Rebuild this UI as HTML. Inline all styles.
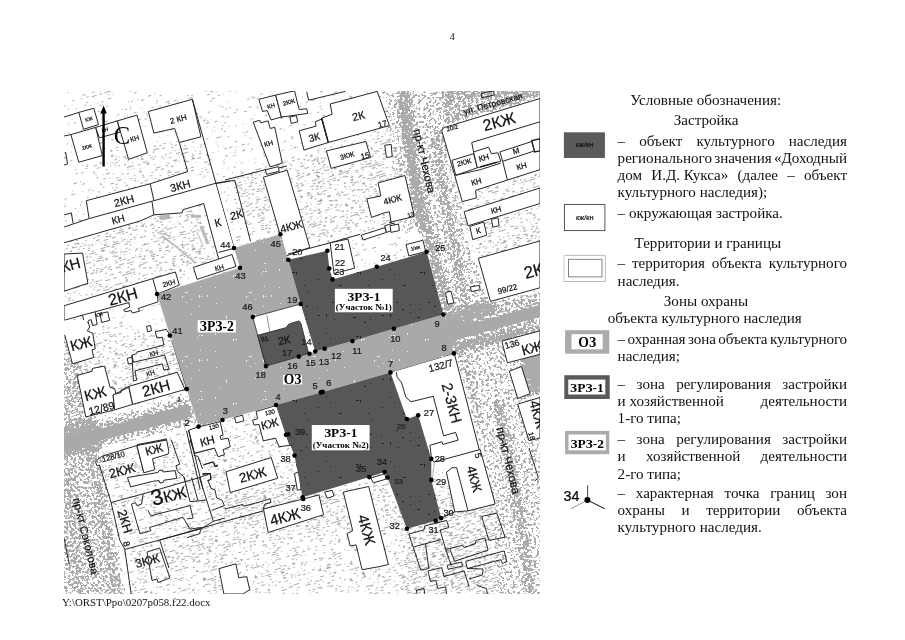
<!DOCTYPE html>
<html lang="ru"><head><meta charset="utf-8"><title>4</title>
<style>
html,body{margin:0;padding:0;background:#fff}
#pg{position:relative;width:905px;height:640px;overflow:hidden;background:#fff;font-family:"Liberation Serif",serif;color:#111}
.t{position:absolute;font-size:15.1px;line-height:17px;white-space:nowrap;letter-spacing:0}
.t.j{white-space:normal;text-align:justify;text-align-last:justify}
svg text.s{font-family:"Liberation Sans",sans-serif;stroke:#111;stroke-width:0.22px}
svg text.b{font-family:"Liberation Serif",serif;font-weight:bold;fill:#000}
.pn{position:absolute;left:449.7px;top:31px;font-size:10px;line-height:12px}
.ft{position:absolute;left:62px;top:596.4px;font-size:10.9px;line-height:12px;white-space:nowrap}
</style></head><body>
<div id="pg">
<svg width="905" height="640" viewBox="0 0 905 640" style="position:absolute;left:0;top:0;will-change:transform"><defs><pattern id="pw" width="64" height="64" patternUnits="userSpaceOnUse"><path d="M41.5 19v2M9.5 12v1M27 4.5h1M8.5 30v1M7.5 15v1M7.5 50v1M5 17.5h1M15.5 39v2M23.5 13v2M24.5 47v1M8 7.5h2M54.5 40v2M58 46.5h1M23.5 31v1M63 43.5h3M9 15.5h2M43 19.5h2M9.5 40v1M63.5 58v1M34.5 60v3M7.5 39v3M57 36.5h3" stroke="#eee" stroke-width="1" fill="none"/></pattern><pattern id="pk" width="64" height="64" patternUnits="userSpaceOnUse"><path d="M44 2.5h2M14 63.5h1M36 16.5h3M50 63.5h1M51.5 35v1M35.5 53v1M48 29.5h1M19 29.5h3M62 23.5h1M18 53.5h2M40.5 16v3M6.5 58v3M50 50.5h2M61 51.5h1M26 56.5h1M6.5 13v1M12 46.5h2M26.5 48v1M44 46.5h2M62 59.5h2M10.5 18v1M33 61.5h3" stroke="#222" stroke-width="1" fill="none"/></pattern><filter id="st" x="40" y="70" width="520" height="550" filterUnits="userSpaceOnUse" color-interpolation-filters="sRGB"><feGaussianBlur in="SourceGraphic" stdDeviation="2.2" result="d"/><feTurbulence type="fractalNoise" baseFrequency="0.38" numOctaves="3" seed="5" result="t"/><feColorMatrix in="t" type="matrix" values="0 0 0 0 0  0 0 0 0 0  0 0 0 0 0  1 0 0 0 0" result="n"/><feComposite in="n" in2="d" operator="arithmetic" k1="0" k2="-30" k3="30" k4="0.5" result="c"/><feColorMatrix in="c" type="matrix" values="0 0 0 0 0.67  0 0 0 0 0.67  0 0 0 0 0.67  0 0 0 1 0"/></filter><filter id="sl" x="-150" y="-150" width="900" height="1000" filterUnits="userSpaceOnUse" color-interpolation-filters="sRGB"><feGaussianBlur in="SourceGraphic" stdDeviation="3" result="d"/><feTurbulence type="fractalNoise" baseFrequency="0.22 0.9" numOctaves="2" seed="11" result="t"/><feColorMatrix in="t" type="matrix" values="0 0 0 0 0  0 0 0 0 0  0 0 0 0 0  1 0 0 0 0" result="n"/><feComposite in="n" in2="d" operator="arithmetic" k1="0" k2="-30" k3="30" k4="0.5" result="c"/><feColorMatrix in="c" type="matrix" values="0 0 0 0 0.66  0 0 0 0 0.66  0 0 0 0 0.66  0 0 0 1 0"/></filter><clipPath id="mc"><rect x="64" y="91" width="476" height="503"/></clipPath></defs><g clip-path="url(#mc)"><g transform="rotate(-17 300 340)" filter="url(#sl)"><g transform="rotate(17 300 340)"><rect x="20" y="50" width="560" height="590" fill="#000" fill-opacity="0.28"/><polygon points="128.0,545.0 200.0,522.0 420.0,470.0 500.0,500.0 500.0,600.0 128.0,600.0" fill="#000" fill-opacity="0.090"/><polyline points="160.0,560.0 330.0,520.0 440.0,505.0" fill="none" stroke="#000" stroke-opacity="0.061" stroke-width="14" stroke-linejoin="round"/><polygon points="225.0,500.0 340.0,470.0 345.0,500.0 232.0,530.0" fill="#000" fill-opacity="0.097"/><polygon points="60.0,240.0 200.0,205.0 215.0,260.0 160.0,290.0 60.0,300.0" fill="#000" fill-opacity="0.111"/><polygon points="90.0,150.0 200.0,135.0 215.0,175.0 100.0,205.0" fill="#000" fill-opacity="0.083"/><polygon points="230.0,175.0 400.0,130.0 420.0,215.0 290.0,250.0 240.0,215.0" fill="#000" fill-opacity="0.125"/><polygon points="440.0,175.0 545.0,150.0 545.0,250.0 470.0,262.0" fill="#000" fill-opacity="0.111"/><polygon points="60.0,330.0 170.0,330.0 186.0,389.0 60.0,425.0" fill="#000" fill-opacity="0.111"/><polygon points="100.0,455.0 280.0,410.0 300.0,500.0 125.0,545.0" fill="#000" fill-opacity="0.083"/><polygon points="400.0,500.0 500.0,490.0 500.0,600.0 400.0,600.0" fill="#000" fill-opacity="0.097"/></g></g>
<g filter="url(#st)"><polygon points="60.0,335.0 78.0,335.0 102.0,448.0 128.0,600.0 60.0,600.0" fill="#000" fill-opacity="0.470"/><polyline points="88.0,440.0 100.0,500.0 116.0,600.0" fill="none" stroke="#000" stroke-opacity="0.170" stroke-width="7" stroke-linejoin="round"/><polyline points="66.0,470.0 80.0,600.0" fill="none" stroke="#000" stroke-opacity="0.132" stroke-width="8" stroke-linejoin="round"/><polygon points="60.0,428.0 189.0,394.0 200.0,426.0 60.0,458.0" fill="#000" fill-opacity="0.460"/><polygon points="60.0,437.0 188.0,403.5 192.0,417.0 60.0,451.0" fill="#000" fill-opacity="0.296"/><polygon points="443.5,314.5 480.0,303.0 545.0,290.0 545.0,330.0 453.9,353.4" fill="#000" fill-opacity="0.500"/><polygon points="399.0,88.0 452.0,88.0 446.0,127.0 452.0,170.0 470.0,245.0 497.0,312.0 452.0,326.0 440.0,324.0 421.0,245.0 408.0,170.0 399.0,111.0" fill="#000" fill-opacity="0.425"/><polyline points="404.0,88.0 409.0,127.0 416.0,180.0 424.0,215.0 433.0,252.0 442.0,285.0 452.0,322.0" fill="none" stroke="#000" stroke-opacity="0.322" stroke-width="10" stroke-linejoin="round"/><polyline points="437.0,128.0 440.0,175.0 454.0,245.0 468.0,322.0" fill="none" stroke="#000" stroke-opacity="0.252" stroke-width="8" stroke-linejoin="round"/><polygon points="380.0,88.0 400.0,88.0 412.0,150.0 424.0,230.0 400.0,236.0 388.0,140.0" fill="#000" fill-opacity="0.400"/><polygon points="446.0,88.0 545.0,88.0 545.0,97.0 446.0,126.0" fill="#000" fill-opacity="0.500"/><polyline points="450.0,93.0 545.0,93.0" fill="none" stroke="#000" stroke-opacity="0.200" stroke-width="8" stroke-linejoin="round"/><polyline points="448.0,121.0 545.0,92.0" fill="none" stroke="#000" stroke-opacity="0.160" stroke-width="5" stroke-linejoin="round"/><polygon points="452.0,345.0 508.0,330.0 545.0,330.0 545.0,600.0 495.0,600.0 492.0,520.0 478.0,448.0" fill="#000" fill-opacity="0.415"/><polyline points="497.0,400.0 504.0,431.0 523.0,532.0 531.0,600.0" fill="none" stroke="#000" stroke-opacity="0.248" stroke-width="10" stroke-linejoin="round"/><polyline points="462.0,350.0 480.0,420.0" fill="none" stroke="#000" stroke-opacity="0.145" stroke-width="8" stroke-linejoin="round"/><polygon points="521.5,352.0 545.0,352.0 545.0,393.0 530.0,393.7 524.0,375.0" fill="#000" fill-opacity="0.658"/></g>
<polygon points="159.6,215.5 170.0,214.8 170.0,219.0 160.0,220.0" fill="#b4b4b4"/>
<polyline points="162.0,236.0 178.0,248.0 195.2,262.7" fill="none" stroke="#b8b8b8" stroke-width="1.6"/>
<polyline points="159.6,233.0 170.0,236.0" fill="none" stroke="#c0c0c0" stroke-width="1.4"/>
<polygon points="190.0,214.5 201.0,215.0 201.0,218.0 191.0,217.5" fill="#bbb"/>
<polyline points="201.0,226.0 208.0,244.0" fill="none" stroke="#bcbcbc" stroke-width="3.2"/>
<polyline points="197.0,232.0 203.0,246.0" fill="none" stroke="#cfcfcf" stroke-width="1.6"/>
<!--zones-->
<polygon points="78.8,112.4 93.8,108.3 98.5,124.6 83.5,129.3" fill="#fff" stroke="#1c1c1c" stroke-width="0.95"/>
<polyline points="64.1,117.1 78.8,112.4" fill="none" stroke="#1c1c1c" stroke-width="0.95"/>
<polygon points="70.9,134.6 95.7,127.4 102.3,155.6 78.8,162.2" fill="#fff" stroke="#1c1c1c" stroke-width="0.95"/>
<polyline points="64.1,136.0 70.9,134.6" fill="none" stroke="#1c1c1c" stroke-width="0.95"/>
<polyline points="64.1,165.0 67.5,164.0 65.6,152.0" fill="none" stroke="#1c1c1c" stroke-width="0.95"/>
<polygon points="117.3,120.9 137.0,115.2 147.3,152.8 128.6,159.4" fill="#fff" stroke="#1c1c1c" stroke-width="0.95"/>
<polygon points="95.7,127.4 117.3,120.9 120.1,132.1 99.4,137.8" fill="#fff" stroke="#1c1c1c" stroke-width="0.95"/>
<polygon points="148.3,111.5 192.4,99.3 200.9,136.8 179.3,142.5 174.6,128.4 153.9,133.1" fill="#fff" stroke="#1c1c1c" stroke-width="0.95"/>
<polyline points="192.4,99.3 234.0,248.0" fill="none" stroke="#1c1c1c" stroke-width="0.95"/>
<polyline points="179.3,142.5 187.7,171.6" fill="none" stroke="#1c1c1c" stroke-width="0.95"/>
<polygon points="86.3,200.7 150.2,183.8 187.7,171.6 215.3,183.4 153.9,200.7 89.1,218.6" fill="#fff" stroke="#1c1c1c" stroke-width="0"/>
<polyline points="89.1,218.6 86.3,200.7 150.2,183.8 187.7,171.6" fill="none" stroke="#1c1c1c" stroke-width="0.95"/>
<polyline points="150.2,183.8 153.9,200.7" fill="none" stroke="#1c1c1c" stroke-width="0.95"/>
<polygon points="64.1,227.0 89.1,218.6 153.9,200.7 215.3,183.4 234.1,248.3 218.7,252.4 218.7,259.0 203.7,203.5 183.0,209.7 182.1,212.9 153.9,214.8 140.8,220.8 64.1,242.8" fill="#fff" stroke="#1c1c1c" stroke-width="0"/>
<polyline points="64.1,227.0 89.1,218.6 153.9,200.7 215.3,183.4 230.0,181.0" fill="none" stroke="#1c1c1c" stroke-width="0.95"/>
<polyline points="64.1,242.8 140.8,220.8 153.9,214.8 182.1,212.9 183.0,209.7 203.7,203.5 218.7,259.0" fill="none" stroke="#1c1c1c" stroke-width="0.95"/>
<polyline points="152.0,201.7 153.9,214.8" fill="none" stroke="#1c1c1c" stroke-width="0.95"/>
<polyline points="218.7,252.4 234.1,248.3" fill="none" stroke="#1c1c1c" stroke-width="0.95"/>
<polyline points="64.1,214.8 71.3,212.9 73.1,223.3" fill="none" stroke="#1c1c1c" stroke-width="0.95"/>
<polyline points="215.3,183.4 234.8,180.3 250.5,241.3" fill="none" stroke="#1c1c1c" stroke-width="0.95"/>
<polygon points="64.1,254.0 82.5,253.1 87.9,283.3 64.0,291.2" fill="#fff" stroke="#1c1c1c" stroke-width="0.95"/>
<polygon points="64.0,305.8 152.8,278.6 175.4,272.0 179.3,285.0 157.2,294.3 158.1,301.8 138.2,308.5 139.6,311.1 132.3,313.1 131.0,310.5 125.0,311.8 123.7,309.8 129.6,307.1 129.0,302.5 95.1,311.8 82.5,315.1 64.0,320.4" fill="#fff" stroke="#1c1c1c" stroke-width="0.95"/>
<polyline points="152.8,278.6 157.2,294.3" fill="none" stroke="#1c1c1c" stroke-width="0.95"/>
<polyline points="82.5,315.1 84.5,323.7 87.9,322.4 88.5,320.4 91.2,319.7 92.5,325.7 97.1,324.4 95.1,311.8" fill="none" stroke="#1c1c1c" stroke-width="0.95"/>
<polygon points="99.8,313.8 107.7,311.8 109.7,320.4 101.8,322.4" fill="#fff" stroke="#1c1c1c" stroke-width="0.95"/>
<polygon points="193.4,267.4 218.7,259.0 232.0,254.5 236.0,266.5 197.1,279.4" fill="#fff" stroke="#1c1c1c" stroke-width="0.95"/>
<polygon points="258.8,99.3 275.7,95.1 281.4,117.1 271.0,119.9 267.3,110.5 262.6,111.5" fill="#fff" stroke="#1c1c1c" stroke-width="0.95"/>
<polygon points="275.7,95.1 294.5,90.8 299.2,109.6 306.7,108.7 307.7,113.4 281.4,117.1" fill="#fff" stroke="#1c1c1c" stroke-width="0.95"/>
<polygon points="289.8,117.2 296.3,115.6 297.8,121.8 291.3,123.4" fill="#fff" stroke="#1c1c1c" stroke-width="0.95"/>
<polygon points="253.2,122.2 259.8,120.3 260.7,122.8 268.2,120.9 270.1,128.4 274.8,127.4 282.3,163.1 270.1,166.9" fill="#fff" stroke="#1c1c1c" stroke-width="0.95"/>
<polygon points="265.4,169.8 278.2,166.6 279.3,171.2 266.5,174.4" fill="#fff" stroke="#1c1c1c" stroke-width="0.95"/>
<polyline points="225.0,180.0 265.4,169.7" fill="none" stroke="#1c1c1c" stroke-width="0.95"/>
<polyline points="278.5,168.0 287.0,166.0" fill="none" stroke="#1c1c1c" stroke-width="0.95"/>
<polygon points="263.4,177.2 287.2,170.2 309.8,247.5 286.0,256.0 280.2,235.0" fill="#fff" stroke="#1c1c1c" stroke-width="0.95"/>
<polygon points="299.2,130.8 316.1,126.1 315.2,121.8 321.7,119.0 328.3,142.5 303.9,150.0" fill="#fff" stroke="#1c1c1c" stroke-width="0.95"/>
<polygon points="321.7,118.1 332.1,114.3 330.2,104.0 377.2,91.4 389.4,125.6 328.3,142.5" fill="#fff" stroke="#1c1c1c" stroke-width="0.95"/>
<polyline points="321.7,118.1 328.3,142.5" fill="none" stroke="#1c1c1c" stroke-width="1.4"/>
<polyline points="306.7,91.8 308.6,100.2 345.2,91.4" fill="none" stroke="#1c1c1c" stroke-width="0.95"/>
<polygon points="326.4,150.9 365.9,141.5 370.6,157.5 331.1,168.4" fill="#fff" stroke="#1c1c1c" stroke-width="0.95"/>
<polygon points="384.7,145.3 391.2,144.4 392.2,156.6 386.5,157.5" fill="#fff" stroke="#1c1c1c" stroke-width="0.95"/>
<polygon points="378.1,182.9 405.0,175.5 414.4,216.5 389.4,222.4 391.2,223.0 389.4,211.8 384.7,212.7 371.5,217.4 366.8,198.8 380.9,196.0" fill="#fff" stroke="#1c1c1c" stroke-width="0.95"/>
<polyline points="288.0,254.0 330.2,242.8 360.2,234.3" fill="none" stroke="#1c1c1c" stroke-width="0.95"/>
<polygon points="330.2,242.8 348.0,239.0 354.6,268.1 334.0,273.7" fill="#fff" stroke="#1c1c1c" stroke-width="0.95"/>
<polygon points="361.2,235.2 384.7,227.7 386.5,232.4 363.1,240.0" fill="#fff" stroke="#1c1c1c" stroke-width="0.95"/>
<polygon points="384.7,225.8 394.0,223.0 395.5,229.0 386.5,232.4" fill="#fff" stroke="#1c1c1c" stroke-width="0.95"/>
<polygon points="390.0,225.8 398.5,224.0 399.4,230.5 391.0,232.4" fill="#fff" stroke="#1c1c1c" stroke-width="0.95"/>
<polygon points="406.0,244.6 422.9,240.3 425.7,251.6 408.8,255.9" fill="#fff" stroke="#1c1c1c" stroke-width="0.95"/>
<polygon points="445.4,292.5 451.0,291.2 453.9,302.9 447.9,304.2" fill="#fff" stroke="#1c1c1c" stroke-width="0.95"/>
<polygon points="470.4,286.9 479.2,285.4 480.2,289.7 471.3,291.6" fill="#fff" stroke="#1c1c1c" stroke-width="0.95"/>
<polygon points="441.7,130.5 444.0,127.6 540.0,98.5 540.0,169.7 507.4,180.0 475.5,190.4 476.4,197.9 462.3,201.6" fill="#fff" stroke="#1c1c1c" stroke-width="0.95"/>
<polyline points="471.7,142.5 540.0,121.8" fill="none" stroke="#1c1c1c" stroke-width="0.95"/>
<polyline points="471.7,142.5 473.6,151.9" fill="none" stroke="#1c1c1c" stroke-width="0.95"/>
<polygon points="452.0,160.3 473.6,153.7 477.3,167.8 455.7,175.3" fill="#fff" stroke="#1c1c1c" stroke-width="0.95"/>
<polygon points="473.6,151.9 488.6,147.2 491.4,153.7 498.0,152.8 500.8,161.3 477.3,167.8" fill="#fff" stroke="#1c1c1c" stroke-width="0.95"/>
<polygon points="499.9,151.9 531.8,141.5 534.6,150.9 502.7,161.3" fill="#fff" stroke="#1c1c1c" stroke-width="0.95"/>
<polygon points="531.8,140.6 540.0,138.7 540.0,150.9 534.6,151.9" fill="#fff" stroke="#1c1c1c" stroke-width="1.4"/>
<polyline points="502.7,161.3 507.4,180.0" fill="none" stroke="#1c1c1c" stroke-width="0.95"/>
<polyline points="455.7,175.3 480.2,169.7 500.8,163.1" fill="none" stroke="#1c1c1c" stroke-width="0.95"/>
<polyline points="480.2,167.0 497.1,162.2" fill="none" stroke="#1c1c1c" stroke-width="1.4"/>
<polygon points="481.0,93.5 493.5,90.8 494.3,95.0 481.8,97.7" fill="none" stroke="#1c1c1c" stroke-width="0.95"/>
<polygon points="464.2,211.8 540.0,188.0 540.0,203.5 468.0,225.8" fill="#fff" stroke="#1c1c1c" stroke-width="0.95"/>
<polygon points="469.8,226.4 483.9,222.1 486.7,235.2 472.7,239.6" fill="#fff" stroke="#1c1c1c" stroke-width="0.95"/>
<polygon points="491.4,219.3 498.0,217.8 499.0,225.8 492.9,227.2" fill="#fff" stroke="#1c1c1c" stroke-width="0.95"/>
<polygon points="478.3,258.3 540.0,240.9 540.0,287.8 490.5,301.4" fill="#fff" stroke="#1c1c1c" stroke-width="0.95"/>
<polygon points="64.7,334.8 72.5,363.8 93.6,357.5 92.0,349.7 95.2,348.9 92.8,333.3 87.3,330.9 89.7,327.0 86.0,320.0 64.0,320.4" fill="#fff" stroke="#1c1c1c" stroke-width="0"/>
<polyline points="64.7,334.8 72.5,363.8 93.6,357.5 92.0,349.7 95.2,348.9 92.8,333.3 87.3,330.9 89.7,327.0 88.0,322.0" fill="none" stroke="#1c1c1c" stroke-width="0.95"/>
<polygon points="77.2,375.5 92.0,371.3 92.5,368.4 104.5,366.1 110.0,387.2 114.7,388.8 115.9,393.8 113.1,395.0 114.7,409.8 85.8,416.9" fill="#fff" stroke="#1c1c1c" stroke-width="0.95"/>
<polygon points="113.1,395.0 128.8,387.2 132.7,404.4 114.7,409.8" fill="#fff" stroke="#1c1c1c" stroke-width="0.95"/>
<polyline points="115.9,393.8 121.0,392.5 121.5,389.8 128.8,386.4" fill="none" stroke="#1c1c1c" stroke-width="0.95"/>
<polygon points="128.8,386.4 177.2,372.3 185.0,389.5 132.7,404.4" fill="#fff" stroke="#1c1c1c" stroke-width="0.95"/>
<polyline points="166.3,329.4 155.3,331.7 156.9,338.0 162.3,337.2 163.9,345.0 137.3,352.0 136.6,353.6 131.9,355.2" fill="none" stroke="#1c1c1c" stroke-width="0.95"/>
<polyline points="166.3,329.4 170.2,335.3 186.6,388.8" fill="none" stroke="#1c1c1c" stroke-width="0.95"/>
<polygon points="131.9,355.2 133.4,362.2 164.7,355.2 167.8,365.3 169.4,369.2 163.9,370.0 162.3,363.8 135.0,370.8 136.6,380.2 133.4,380.9" fill="none" stroke="#1c1c1c" stroke-width="0.95"/>
<polygon points="127.2,358.3 131.9,357.2 132.7,363.0 128.4,364.1" fill="#fff" stroke="#1c1c1c" stroke-width="0.95"/>
<polygon points="146.7,326.3 150.6,325.5 151.4,330.9 147.5,331.7" fill="#fff" stroke="#1c1c1c" stroke-width="0.95"/>
<polyline points="166.6,440.0 136.9,445.5 101.7,456.4 99.4,458.0 95.5,461.9 97.0,465.8 99.4,465.0 111.1,502.5 119.7,540.0 124.8,549.4 132.0,600.0" fill="none" stroke="#1c1c1c" stroke-width="0.95"/>
<polyline points="136.9,445.5 143.9,472.8" fill="none" stroke="#1c1c1c" stroke-width="0.95"/>
<polygon points="136.9,445.5 166.6,440.0 168.9,451.7 168.1,454.1 152.5,458.8 154.8,469.7 143.9,472.8" fill="#fff" stroke="#1c1c1c" stroke-width="0.95"/>
<polyline points="171.3,440.0 179.8,464.2 175.9,465.8 177.5,471.3 183.8,476.7 185.3,480.6" fill="none" stroke="#1c1c1c" stroke-width="0.95"/>
<polygon points="127.5,477.5 158.0,472.5 159.0,470.5 162.0,470.0 163.0,472.0 175.2,470.6 176.7,478.4 164.0,480.2 163.0,482.5 160.0,483.0 159.0,480.5 152.5,481.4 130.6,486.9" fill="#fff" stroke="#1c1c1c" stroke-width="0.95"/>
<polyline points="111.1,502.5 143.1,493.9 199.4,477.5 210.3,473.6" fill="none" stroke="#1c1c1c" stroke-width="0.95"/>
<polyline points="131.4,504.1 140.0,533.8 150.9,530.6 149.4,527.5 183.0,517.3 190.0,529.1 201.7,527.5 199.4,533.8 186.9,537.7" fill="none" stroke="#1c1c1c" stroke-width="0.95"/>
<polyline points="147.8,510.3 150.9,515.8 190.0,505.6 193.1,518.1 186.9,518.9" fill="none" stroke="#1c1c1c" stroke-width="0.95"/>
<polyline points="131.4,504.1 135.3,502.5 136.9,505.6 141.6,504.1 143.1,493.9" fill="none" stroke="#1c1c1c" stroke-width="0.95"/>
<polyline points="183.8,476.7 190.0,501.7 205.6,500.2" fill="none" stroke="#1c1c1c" stroke-width="0.95"/>
<polyline points="191.6,477.5 197.8,500.2" fill="none" stroke="#1c1c1c" stroke-width="0.95"/>
<polyline points="199.4,477.5 213.4,521.3" fill="none" stroke="#1c1c1c" stroke-width="0.95"/>
<polyline points="202.5,473.6 210.3,473.6 211.1,479.1 208.0,480.6 211.1,488.4 215.0,490.0 216.6,497.8 222.0,500.2 224.4,505.6 211.9,510.3" fill="none" stroke="#1c1c1c" stroke-width="0.95"/>
<polyline points="190.0,440.0 194.7,453.3 215.0,447.8 219.7,455.6 224.4,454.8" fill="none" stroke="#1c1c1c" stroke-width="0.95"/>
<polyline points="194.7,455.6 198.0,456.4 202.5,469.0" fill="none" stroke="#1c1c1c" stroke-width="0.95"/>
<polyline points="203.3,465.0 213.4,461.9 215.0,465.8 218.1,465.0" fill="none" stroke="#1c1c1c" stroke-width="0.95"/>
<polyline points="124.8,549.4 200.9,528.8 213.4,521.3 225.0,518.0" fill="none" stroke="#1c1c1c" stroke-width="0.95"/>
<polyline points="159.6,540.0 169.0,568.0" fill="none" stroke="#1c1c1c" stroke-width="0.95"/>
<polygon points="147.0,552.0 159.6,548.0 169.9,578.0 158.0,582.5 157.0,579.0 152.0,580.5" fill="none" stroke="#1c1c1c" stroke-width="0.95"/>
<polyline points="64.1,538.2 69.4,564.5" fill="none" stroke="#1c1c1c" stroke-width="0.95"/>
<polygon points="188.6,430.2 198.7,426.9 220.2,421.6 223.1,435.2 220.2,435.9 220.9,439.5 228.1,438.1 230.3,446.7 223.1,449.6 224.5,454.6 218.1,456.8 214.5,448.1 194.4,453.2" fill="#fff" stroke="#1c1c1c" stroke-width="0.95"/>
<polyline points="186.5,430.9 200.1,489.0" fill="none" stroke="#1c1c1c" stroke-width="0.95"/>
<polyline points="188.6,430.2 203.0,489.0" fill="none" stroke="#1c1c1c" stroke-width="0.95"/>
<polyline points="137.0,444.6 167.1,438.9" fill="none" stroke="#1c1c1c" stroke-width="0.95"/>
<polygon points="234.6,417.2 242.5,415.1 243.9,420.8 236.0,423.0" fill="#fff" stroke="#1c1c1c" stroke-width="0.95"/>
<polygon points="256.1,411.5 276.6,405.3 289.9,445.3 279.1,446.7 275.5,438.1 263.3,440.9 259.0,424.4 254.0,425.1 252.6,420.1 257.6,418.7" fill="#fff" stroke="#1c1c1c" stroke-width="0.95"/>
<polyline points="203.7,464.6 213.0,461.8 215.2,466.8 218.0,466.0" fill="none" stroke="#1c1c1c" stroke-width="0.95"/>
<polyline points="202.3,474.7 210.2,473.3 210.9,479.7 207.3,480.5" fill="none" stroke="#1c1c1c" stroke-width="0.95"/>
<polygon points="226.0,471.8 271.2,457.5 277.7,478.3 230.3,492.5" fill="#fff" stroke="#1c1c1c" stroke-width="0.95"/>
<polygon points="263.5,509.0 318.9,495.0 323.6,514.7 268.2,532.5" fill="#fff" stroke="#1c1c1c" stroke-width="0.95"/>
<polyline points="225.0,509.0 242.8,504.4 243.8,506.2 264.5,500.6 270.1,498.7 271.0,502.5 264.5,504.4 263.5,509.0" fill="none" stroke="#1c1c1c" stroke-width="0.95"/>
<polyline points="225.0,521.3 263.5,510.9" fill="none" stroke="#1c1c1c" stroke-width="0.95"/>
<polyline points="160.0,540.0 225.0,521.3" fill="none" stroke="#1c1c1c" stroke-width="0.95"/>
<polygon points="294.5,473.4 299.2,472.0 301.1,489.3 297.3,490.3" fill="#fff" stroke="#1c1c1c" stroke-width="0.95"/>
<polygon points="324.6,492.1 332.1,490.3 334.0,495.9 327.4,498.3" fill="#fff" stroke="#1c1c1c" stroke-width="0.95"/>
<polygon points="343.3,492.1 368.7,486.5 388.4,564.5 380.0,566.5 362.1,569.7 356.1,544.9 350.2,545.9 347.1,533.5 352.7,530.7" fill="#fff" stroke="#1c1c1c" stroke-width="0.95"/>
<polygon points="370.6,478.0 384.7,473.9 386.5,479.0 373.4,482.8" fill="#fff" stroke="#1c1c1c" stroke-width="0.95"/>
<polygon points="218.9,568.7 235.8,563.8 238.8,577.7 246.7,576.7 249.7,589.6 243.0,594.0 223.9,594.0" fill="#fff" stroke="#1c1c1c" stroke-width="0.95"/>
<polygon points="390.3,372.2 453.9,353.4 481.0,448.7 431.6,459.0 418.2,415.5 406.6,418.6" fill="#fff"/>
<polyline points="390.3,372.2 453.9,353.4" fill="none" stroke="#1c1c1c" stroke-width="0.95"/>
<polyline points="396.3,372.2 397.2,377.3 401.5,382.5 405.8,397.1 410.9,401.8 433.3,396.3 443.6,435.8 455.6,432.4 458.2,440.1 442.8,444.4 441.9,441.8 429.9,445.3 431.6,459.0" fill="none" stroke="#1c1c1c" stroke-width="0.95"/>
<polyline points="454.3,353.4 483.2,465.0" fill="none" stroke="#1c1c1c" stroke-width="0.95"/>
<polygon points="501.8,341.1 540.0,330.8 540.0,354.3 507.4,362.8" fill="#fff" stroke="#1c1c1c" stroke-width="0.95"/>
<polygon points="509.3,371.2 521.5,366.5 530.0,393.7 517.7,398.4" fill="#fff" stroke="#1c1c1c" stroke-width="0.95"/>
<polygon points="517.7,404.1 540.0,397.5 540.0,438.0 529.0,440.7" fill="#fff" stroke="#1c1c1c" stroke-width="0.95"/>
<polygon points="432.0,459.5 480.2,449.5 495.2,504.0 468.0,510.9 454.8,511.9 446.4,472.4 440.0,470.0" fill="#fff"/>
<polyline points="431.3,458.9 434.1,462.1 480.2,449.5 495.2,504.0 468.0,510.9" fill="none" stroke="#1c1c1c" stroke-width="0.95"/>
<polyline points="468.0,510.9 456.7,467.7 452.0,467.7 446.4,472.4 454.8,511.9" fill="none" stroke="#1c1c1c" stroke-width="0.95"/>
<polyline points="441.1,518.1 454.8,511.9 468.0,510.9" fill="none" stroke="#1c1c1c" stroke-width="0.95"/>
<polyline points="434.1,462.1 432.5,479.0" fill="none" stroke="#888" stroke-width="0.6"/>
<polyline points="420.8,570.1 408.8,534.0 424.0,530.0 424.8,526.0 446.5,520.4 448.9,527.6 440.1,530.0 445.7,549.3 449.7,548.5" fill="none" stroke="#1c1c1c" stroke-width="0.95"/>
<polyline points="420.8,570.1 428.8,568.5 425.6,544.4" fill="none" stroke="#1c1c1c" stroke-width="0.95"/>
<polyline points="413.6,546.9 440.9,539.6" fill="none" stroke="#1c1c1c" stroke-width="0.95"/>
<polygon points="449.7,548.5 462.5,545.3 464.1,547.7 475.3,543.6 476.1,540.4 484.9,538.0 488.1,550.1 454.5,561.3" fill="none" stroke="#1c1c1c" stroke-width="0.95"/>
<polygon points="481.7,516.4 496.9,513.2 505.0,537.2 488.9,540.4" fill="none" stroke="#1c1c1c" stroke-width="0.95"/>
<polygon points="465.7,561.3 504.2,550.9 506.6,561.3 502.5,563.7 500.9,559.7 467.3,568.5" fill="none" stroke="#1c1c1c" stroke-width="0.95"/>
<polygon points="447.3,565.3 461.7,562.1 462.5,566.1 448.1,569.3" fill="none" stroke="#1c1c1c" stroke-width="0.95"/>
<polyline points="428.0,570.9 441.7,567.7 444.1,576.5 464.1,570.9 468.9,586.1" fill="none" stroke="#1c1c1c" stroke-width="0.95"/>
<polyline points="428.0,570.9 430.4,581.3 436.0,580.5 437.7,588.5 445.7,586.9 446.5,594.0" fill="none" stroke="#1c1c1c" stroke-width="0.95"/>
<polyline points="416.0,594.0 416.8,590.0 424.0,588.5 424.8,594.0" fill="none" stroke="#1c1c1c" stroke-width="0.95"/>
<polyline points="467.3,568.5 483.0,569.0 482.5,575.0 469.0,579.0" fill="none" stroke="#1c1c1c" stroke-width="0.95"/>
<polyline points="477.0,585.5 486.5,588.5 487.3,594.0" fill="none" stroke="#1c1c1c" stroke-width="0.95"/>
<polyline points="445.7,549.3 451.0,565.0" fill="none" stroke="#1c1c1c" stroke-width="0.95"/>
<polyline points="529.0,448.0 538.4,478.0 534.6,480.9" fill="none" stroke="#1c1c1c" stroke-width="0.95"/>
<polygon points="64.0,438.8 188.0,404.6 192.0,416.4 64.0,450.2" fill="#a9a9a9"/>
<polygon points="445.0,321.0 479.4,321.6 540.0,304.7 540.0,316.9 457.5,339.5 452.0,348.0" fill="#a9a9a9"/>
<polygon points="157.1,294.0 240.0,267.7 234.0,248.0 280.4,234.3 288.3,259.7 300.7,304.0 252.8,317.1 266.0,366.1 298.8,356.6 309.5,353.7 315.2,351.5 324.6,348.7 352.4,341.1 393.9,328.8 443.5,314.5 453.9,353.4 390.5,372.4 322.7,391.9 276.1,405.0 222.5,420.0 198.6,426.6 186.8,389.1 169.9,335.5" fill="#a9a9a9"/>
<polygon points="157.1,294.0 240.0,267.7 234.0,248.0 280.4,234.3 288.3,259.7 300.7,304.0 252.8,317.1 266.0,366.1 298.8,356.6 309.5,353.7 315.2,351.5 324.6,348.7 352.4,341.1 393.9,328.8 443.5,314.5 453.9,353.4 390.5,372.4 322.7,391.9 276.1,405.0 222.5,420.0 198.6,426.6 186.8,389.1 169.9,335.5" fill="url(#pw)"/>
<polygon points="288.3,259.7 327.4,250.8 329.3,268.5 332.6,279.4 376.8,266.8 426.6,251.8 443.5,314.5 393.9,328.8 352.4,341.1 324.6,348.7 315.2,351.5 300.7,304.0" fill="#575757"/>
<polygon points="276.1,405.0 322.7,391.9 390.5,372.4 406.9,419.1 418.2,415.3 431.3,458.9 431.3,479.9 441.1,518.1 435.6,520.7 406.9,528.8 387.5,477.5 384.7,472.0 369.3,477.1 302.6,497.2 294.5,455.5 286.0,434.7" fill="#575757"/>
<polygon points="288.3,259.7 327.4,250.8 329.3,268.5 332.6,279.4 376.8,266.8 426.6,251.8 443.5,314.5 393.9,328.8 352.4,341.1 324.6,348.7 315.2,351.5 300.7,304.0" fill="url(#pk)"/>
<polygon points="276.1,405.0 322.7,391.9 390.5,372.4 406.9,419.1 418.2,415.3 431.3,458.9 431.3,479.9 441.1,518.1 435.6,520.7 406.9,528.8 387.5,477.5 384.7,472.0 369.3,477.1 302.6,497.2 294.5,455.5 286.0,434.7" fill="url(#pk)"/>
<polygon points="252.8,317.1 300.7,304.0 313.3,351.7 309.5,353.7 298.8,356.6 266.0,366.1" fill="#fff"/>
<polyline points="266.0,366.1 252.8,317.1 300.7,304.0" fill="none" stroke="#222" stroke-width="0.8"/>
<path d="M266.7 314.8L269.7 331.7" stroke="#666" stroke-width="0.7"/>
<polygon points="257.6,335.3 286.5,327.5 288.0,324.8 290.5,323.4 299.1,320.9 300.9,323.3 308.6,353.4 298.8,356.6 266.0,366.1" fill="#575757" stroke="#222" stroke-width="0.8"/>
<rect x="197.7" y="320.2" width="38.2" height="12.3" fill="#fff"/>
<rect x="334.9" y="288.8" width="57.8" height="23.5" fill="#fff"/>
<rect x="282.9" y="375" width="19.1" height="9.5" fill="#fff"/>
<rect x="311.8" y="425" width="57.8" height="25.3" fill="#fff"/>
<text class="b" x="216.8" y="331.0" font-size="13.6" text-anchor="middle">ЗРЗ-2</text>
<text class="b" x="363.8" y="300.5" font-size="13.2" text-anchor="middle">ЗРЗ-1</text>
<text class="b" x="363.8" y="310.3" font-size="9" text-anchor="middle">(Участок №1)</text>
<text class="b" x="292.5" y="384.3" font-size="13.6" text-anchor="middle">ОЗ</text>
<text class="b" x="340.7" y="437.0" font-size="13.2" text-anchor="middle">ЗРЗ-1</text>
<text class="b" x="340.7" y="447.5" font-size="9" text-anchor="middle">(Участок №2)</text>
<circle cx="186.8" cy="389.1" r="2.3" fill="#000"/>
<circle cx="198.6" cy="426.6" r="2.3" fill="#000"/>
<circle cx="222.5" cy="420" r="2.3" fill="#000"/>
<circle cx="276.1" cy="405" r="2.3" fill="#000"/>
<circle cx="322.7" cy="391.9" r="2.3" fill="#000"/>
<circle cx="390.5" cy="372.4" r="2.3" fill="#000"/>
<circle cx="453.9" cy="353.4" r="2.3" fill="#000"/>
<circle cx="443.5" cy="314.5" r="2.3" fill="#000"/>
<circle cx="393.9" cy="328.8" r="2.3" fill="#000"/>
<circle cx="352.4" cy="341.1" r="2.3" fill="#000"/>
<circle cx="324.6" cy="348.7" r="2.3" fill="#000"/>
<circle cx="315.2" cy="351.5" r="2.3" fill="#000"/>
<circle cx="309.5" cy="353.7" r="2.3" fill="#000"/>
<circle cx="298.8" cy="356.6" r="2.3" fill="#000"/>
<circle cx="266" cy="366.1" r="2.3" fill="#000"/>
<circle cx="300.7" cy="304" r="2.3" fill="#000"/>
<circle cx="288.3" cy="259.7" r="2.3" fill="#000"/>
<circle cx="327.4" cy="250.8" r="2.3" fill="#000"/>
<circle cx="329.3" cy="268.5" r="2.3" fill="#000"/>
<circle cx="332.6" cy="279.4" r="2.3" fill="#000"/>
<circle cx="376.8" cy="266.8" r="2.3" fill="#000"/>
<circle cx="426.6" cy="251.8" r="2.3" fill="#000"/>
<circle cx="406.9" cy="419.1" r="2.3" fill="#000"/>
<circle cx="418.2" cy="415.3" r="2.3" fill="#000"/>
<circle cx="431.3" cy="458.9" r="2.3" fill="#000"/>
<circle cx="431.3" cy="479.9" r="2.3" fill="#000"/>
<circle cx="441.1" cy="518.1" r="2.3" fill="#000"/>
<circle cx="435.6" cy="520.7" r="2.3" fill="#000"/>
<circle cx="406.9" cy="528.8" r="2.3" fill="#000"/>
<circle cx="387.5" cy="477.5" r="2.3" fill="#000"/>
<circle cx="384.7" cy="472" r="2.3" fill="#000"/>
<circle cx="369.3" cy="477.1" r="2.3" fill="#000"/>
<circle cx="302.6" cy="497.2" r="2.3" fill="#000"/>
<circle cx="294.5" cy="455.5" r="2.3" fill="#000"/>
<circle cx="286" cy="434.7" r="2.3" fill="#000"/>
<circle cx="169.9" cy="335.5" r="2.3" fill="#000"/>
<circle cx="157.1" cy="294" r="2.3" fill="#000"/>
<circle cx="240" cy="267.7" r="2.3" fill="#000"/>
<circle cx="234" cy="248" r="2.3" fill="#000"/>
<circle cx="280.4" cy="234.3" r="2.3" fill="#000"/>
<circle cx="252.8" cy="317.1" r="2.3" fill="#000"/>
<circle cx="303.2" cy="499" r="2.3" fill="#000"/><circle cx="288.2" cy="434.2" r="2.3" fill="#000"/><circle cx="320.8" cy="392.4" r="2.3" fill="#000"/>
<text class="s" x="225.3" y="247.9" font-size="9.3" text-anchor="middle" fill="#222">44</text>
<text class="s" x="275.7" y="246.6" font-size="9.3" text-anchor="middle" fill="#222">45</text>
<text class="s" x="240.4" y="278.5" font-size="9.3" text-anchor="middle" fill="#222">43</text>
<text class="s" x="297.3" y="254.5" font-size="9.3" text-anchor="middle" fill="#222">20</text>
<text class="s" x="339.6" y="250.2" font-size="9.3" text-anchor="middle" fill="#222">21</text>
<text class="s" x="340.1" y="266.2" font-size="9.3" text-anchor="middle" fill="#222">22</text>
<text class="s" x="339.2" y="275.2" font-size="9.3" text-anchor="middle" fill="#222">23</text>
<text class="s" x="385.6" y="261.1" font-size="9.3" text-anchor="middle" fill="#222">24</text>
<text class="s" x="292.2" y="302.8" font-size="9.3" text-anchor="middle" fill="#222">19</text>
<text class="s" x="247.5" y="310.3" font-size="9.3" text-anchor="middle" fill="#222">46</text>
<text class="s" x="440.3" y="251.3" font-size="9.3" text-anchor="middle" fill="#222">25</text>
<text class="s" x="437.0" y="326.8" font-size="9.3" text-anchor="middle" fill="#222">9</text>
<text class="s" x="395.3" y="342.2" font-size="9.3" text-anchor="middle" fill="#222">10</text>
<text class="s" x="444.1" y="351.0" font-size="9.3" text-anchor="middle" fill="#222">8</text>
<text class="s" x="390.7" y="367.0" font-size="9.3" text-anchor="middle" fill="#222">7</text>
<text class="s" x="428.9" y="415.8" font-size="9.3" text-anchor="middle" fill="#222">27</text>
<text class="s" x="260.7" y="378.3" font-size="9.3" text-anchor="middle" fill="#222">18</text>
<text class="s" x="292.5" y="368.7" font-size="9.3" text-anchor="middle" fill="#222">16</text>
<text class="s" x="310.6" y="366.3" font-size="9.3" text-anchor="middle" fill="#222">15</text>
<text class="s" x="324.0" y="365.1" font-size="9.3" text-anchor="middle" fill="#222">13</text>
<text class="s" x="336.2" y="358.9" font-size="9.3" text-anchor="middle" fill="#222">12</text>
<text class="s" x="357.0" y="353.5" font-size="9.3" text-anchor="middle" fill="#222">11</text>
<text class="s" x="287.1" y="355.8" font-size="9.3" text-anchor="middle" fill="#222">17</text>
<text class="s" x="306.4" y="344.6" font-size="9.3" text-anchor="middle" fill="#222">14</text>
<text class="s" x="315.2" y="389.0" font-size="9.3" text-anchor="middle" fill="#222">5</text>
<text class="s" x="328.9" y="385.8" font-size="9.3" text-anchor="middle" fill="#222">6</text>
<text class="s" x="278.2" y="400.4" font-size="9.3" text-anchor="middle" fill="#222">4</text>
<text class="s" x="300.1" y="435.2" font-size="9.3" text-anchor="middle" fill="#222">39</text>
<text class="s" x="177.4" y="333.6" font-size="9.3" text-anchor="middle" fill="#222">41</text>
<text class="s" x="187.2" y="426.0" font-size="9.3" text-anchor="middle" fill="#222">2</text>
<text class="s" x="225.3" y="413.6" font-size="9.3" text-anchor="middle" fill="#222">3</text>
<text class="s" x="285.6" y="462.2" font-size="9.3" text-anchor="middle" fill="#222">38</text>
<text class="s" x="290.6" y="490.9" font-size="9.3" text-anchor="middle" fill="#222">37</text>
<text class="s" x="305.8" y="510.5" font-size="9.3" text-anchor="middle" fill="#222">36</text>
<text class="s" x="361.2" y="471.6" font-size="9.3" text-anchor="middle" fill="#222">35</text>
<text class="s" x="381.9" y="465.4" font-size="9.3" text-anchor="middle" fill="#222">34</text>
<text class="s" x="439.8" y="462.2" font-size="9.3" text-anchor="middle" fill="#222">28</text>
<text class="s" x="441.1" y="484.7" font-size="9.3" text-anchor="middle" fill="#222">29</text>
<text class="s" x="448.6" y="515.5" font-size="9.3" text-anchor="middle" fill="#222">30</text>
<text class="s" x="433.6" y="533.0" font-size="9.3" text-anchor="middle" fill="#222">31</text>
<text class="s" x="394.7" y="529.3" font-size="9.3" text-anchor="middle" fill="#222">32</text>
<text class="s" x="166.1" y="299.6" font-size="9.3" text-anchor="middle" fill="#222">42</text>
<text class="s" x="178.9" y="401.5" font-size="7.5" text-anchor="middle" fill="#333" font-style="italic">1</text>
<text class="s" x="401.3" y="428.5" font-size="8" text-anchor="middle" fill="#333">26</text>
<text class="s" x="398.5" y="484" font-size="8" text-anchor="middle" fill="#333">33</text>
<text class="s" x="89.0" y="120.8" font-size="5" text-anchor="middle" fill="#111" transform="rotate(-15 89.0 119.0)">КЖ</text>
<text class="s" x="87.0" y="148.8" font-size="5" text-anchor="middle" fill="#111" transform="rotate(-15 87.0 147.0)">2КЖ</text>
<text class="s" x="105.0" y="131.5" font-size="5" text-anchor="middle" fill="#111" transform="rotate(-15 105.0 129.7)">КН</text>
<text class="s" x="134.5" y="141.0" font-size="7" text-anchor="middle" fill="#111" transform="rotate(-15 134.5 138.5)">КН</text>
<text class="s" x="178.3" y="121.9" font-size="8" text-anchor="middle" fill="#111" transform="rotate(-15 178.3 119.0)">2 КН</text>
<text class="s" x="180.2" y="189.7" font-size="11" text-anchor="middle" fill="#111" transform="rotate(-15 180.2 185.7)">3КН</text>
<text class="s" x="123.9" y="204.7" font-size="11" text-anchor="middle" fill="#111" transform="rotate(-15 123.9 200.7)">2КН</text>
<text class="s" x="118.2" y="222.9" font-size="10" text-anchor="middle" fill="#111" transform="rotate(-15 118.2 219.3)">КН</text>
<text class="s" x="217.7" y="226.5" font-size="11" text-anchor="middle" fill="#111" transform="rotate(-15 217.7 222.5)">К</text>
<text class="s" x="236.4" y="218.7" font-size="11" text-anchor="middle" fill="#111" transform="rotate(-15 236.4 214.7)">2К</text>
<text class="s" x="219.3" y="270.2" font-size="7" text-anchor="middle" fill="#111" transform="rotate(-15 219.3 267.7)">КН</text>
<text class="s" x="122.9" y="302.1" font-size="16" text-anchor="middle" fill="#111" transform="rotate(-15 122.9 296.3)">2КН</text>
<text class="s" x="169.0" y="285.6" font-size="7" text-anchor="middle" fill="#111" transform="rotate(-15 169.0 283.1)">2КН</text>
<text class="s" x="99.0" y="316.3" font-size="5" text-anchor="middle" fill="#111" transform="rotate(-15 99.0 314.5)">КЖ</text>
<text class="s" x="271.0" y="108.0" font-size="6" text-anchor="middle" fill="#111" transform="rotate(-15 271.0 105.8)">КН</text>
<text class="s" x="288.9" y="104.2" font-size="6" text-anchor="middle" fill="#111" transform="rotate(-15 288.9 102.0)">2КЖ</text>
<text class="s" x="268.6" y="145.9" font-size="7" text-anchor="middle" fill="#111" transform="rotate(-15 268.6 143.4)">КН</text>
<text class="s" x="314.2" y="140.8" font-size="10" text-anchor="middle" fill="#111" transform="rotate(-15 314.2 137.2)">3К</text>
<text class="s" x="358.4" y="119.8" font-size="11" text-anchor="middle" fill="#111" transform="rotate(-15 358.4 115.8)">2К</text>
<text class="s" x="382.4" y="126.6" font-size="8" text-anchor="middle" fill="#111" transform="rotate(-15 382.4 123.7)">17</text>
<text class="s" x="347.1" y="158.1" font-size="7" text-anchor="middle" fill="#111" transform="rotate(-15 347.1 155.6)">3КЖ</text>
<text class="s" x="365.0" y="158.5" font-size="8" text-anchor="middle" fill="#111" transform="rotate(-15 365.0 155.6)">15</text>
<text class="s" x="392.5" y="202.7" font-size="9" text-anchor="middle" fill="#111" transform="rotate(-15 392.5 199.5)">4КЖ</text>
<text class="s" x="291.1" y="230.4" font-size="11" text-anchor="middle" fill="#111" transform="rotate(-15 291.1 226.4)">4КЖ</text>
<text class="s" x="493.0" y="106.7" font-size="8.7" text-anchor="middle" fill="#111" transform="rotate(-15.4 493.0 103.6)">ул. Петровская</text>
<text class="s" x="499.0" y="127.2" font-size="16" text-anchor="middle" fill="#111" transform="rotate(-15 499.0 121.4)">2КЖ</text>
<text class="s" x="452.4" y="130.0" font-size="6" text-anchor="middle" fill="#111" transform="rotate(-15 452.4 127.8)">20/2</text>
<text class="s" x="464.2" y="164.7" font-size="7" text-anchor="middle" fill="#111" transform="rotate(-15 464.2 162.2)">2КЖ</text>
<text class="s" x="483.9" y="160.4" font-size="8" text-anchor="middle" fill="#111" transform="rotate(-15 483.9 157.5)">КН</text>
<text class="s" x="515.9" y="153.8" font-size="8" text-anchor="middle" fill="#111" transform="rotate(-15 515.9 150.9)">М</text>
<text class="s" x="521.5" y="168.9" font-size="8" text-anchor="middle" fill="#111" transform="rotate(-15 521.5 166.0)">КН</text>
<text class="s" x="476.4" y="184.4" font-size="8" text-anchor="middle" fill="#111" transform="rotate(-15 476.4 181.5)">КН</text>
<text class="s" x="496.1" y="212.8" font-size="8" text-anchor="middle" fill="#111" transform="rotate(-15 496.1 209.9)">КН</text>
<text class="s" x="478.3" y="233.4" font-size="8" text-anchor="middle" fill="#111" transform="rotate(-15 478.3 230.5)">К</text>
<text class="s" x="507.4" y="291.7" font-size="8" text-anchor="middle" fill="#111" transform="rotate(-15 507.4 288.8)">99/22</text>
<text class="s" x="415.4" y="249.6" font-size="5" text-anchor="middle" fill="#111" transform="rotate(-15 415.4 247.8)">1/кж</text>
<text class="s" x="410.7" y="216.8" font-size="6" text-anchor="middle" fill="#111" transform="rotate(-15 410.7 214.6)">13</text>
<text class="s" x="284.1" y="344.0" font-size="10.8" text-anchor="middle" fill="#111" transform="rotate(-10 284.1 340.1)">2К</text>
<text class="s" x="264.8" y="341.2" font-size="6.5" text-anchor="middle" fill="#111" transform="rotate(-10 264.8 338.9)">91</text>
<text class="s" x="269.8" y="414.4" font-size="6" text-anchor="middle" fill="#111" transform="rotate(-15 269.8 412.2)">130</text>
<text class="s" x="269.8" y="427.9" font-size="11.7" text-anchor="middle" fill="#111" transform="rotate(-15 269.8 423.7)">КЖ</text>
<text class="s" x="213.8" y="428.8" font-size="6" text-anchor="middle" fill="#111" transform="rotate(-15 213.8 426.6)">130</text>
<text class="s" x="207.3" y="445.0" font-size="11.4" text-anchor="middle" fill="#111" transform="rotate(-15 207.3 440.9)">КН</text>
<text class="s" x="81.1" y="348.7" font-size="14.7" text-anchor="middle" fill="#111" transform="rotate(-15 81.1 343.4)">КЖ</text>
<text class="s" x="95.2" y="398.7" font-size="14.7" text-anchor="middle" fill="#111" transform="rotate(-15 95.2 393.4)">КЖ</text>
<text class="s" x="101.4" y="412.1" font-size="10.5" text-anchor="middle" fill="#111" transform="rotate(-15 101.4 408.3)">12/89</text>
<text class="s" x="156.1" y="393.5" font-size="15.3" text-anchor="middle" fill="#111" transform="rotate(-15 156.1 388.0)">2КН</text>
<text class="s" x="153.8" y="356.0" font-size="6.8" text-anchor="middle" fill="#111" transform="rotate(-15 153.8 353.6)">КН</text>
<text class="s" x="150.6" y="375.4" font-size="6.5" text-anchor="middle" fill="#111" transform="rotate(-15 150.6 373.1)">КН</text>
<text class="s" x="440.7" y="369.2" font-size="10" text-anchor="middle" fill="#111" transform="rotate(-15 440.7 365.6)">132/7</text>
<text class="s" x="452.0" y="408.4" font-size="15" text-anchor="middle" fill="#111" transform="rotate(75 452.0 403.0)">2-3КН</text>
<text class="s" x="512.0" y="347.2" font-size="9" text-anchor="middle" fill="#111" transform="rotate(-15 512.0 344.0)">136</text>
<text class="s" x="531.8" y="438.5" font-size="7" text-anchor="middle" fill="#111" transform="rotate(75 531.8 436.0)">18</text>
<text class="s" x="113.4" y="459.2" font-size="7.7" text-anchor="middle" fill="#111" transform="rotate(-15 113.4 456.4)">128/10</text>
<text class="s" x="122.0" y="475.2" font-size="13" text-anchor="middle" fill="#111" transform="rotate(-15 122.0 470.5)">2КЖ</text>
<text class="s" x="154.1" y="453.6" font-size="11.8" text-anchor="middle" fill="#111" transform="rotate(-15 154.1 449.4)">КЖ</text>
<text class="s" x="125.2" y="525.9" font-size="12.9" text-anchor="middle" fill="#111" transform="rotate(73 125.2 521.3)">2КН</text>
<text class="s" x="126.7" y="547.0" font-size="9" text-anchor="middle" fill="#111" transform="rotate(75 126.7 543.8)">8</text>
<text class="s" x="147.3" y="565.0" font-size="12" text-anchor="middle" fill="#111" transform="rotate(-15 147.3 560.7)">3КЖ</text>
<text class="s" x="252.6" y="479.5" font-size="13.4" text-anchor="middle" fill="#111" transform="rotate(-15 252.6 474.7)">2КЖ</text>
<text class="s" x="285.1" y="522.0" font-size="15" text-anchor="middle" fill="#111" transform="rotate(-15 285.1 516.6)">4КЖ</text>
<text class="s" x="366.8" y="535.1" font-size="15" text-anchor="middle" fill="#111" transform="rotate(75 366.8 529.7)">4КЖ</text>
<text class="s" x="474.5" y="483.7" font-size="13" text-anchor="middle" fill="#111" transform="rotate(75 474.5 479.0)">4КЖ</text>
<text class="s" x="478.3" y="458.7" font-size="9" text-anchor="middle" fill="#111" transform="rotate(75 478.3 455.5)">5</text>
<text class="s" x="424.6" y="165.0" font-size="11" text-anchor="middle" fill="#111" transform="rotate(77 424.6 161.0)">пр-кт Чехова</text>
<text class="s" x="508.5" y="464.6" font-size="11.5" text-anchor="middle" fill="#111" transform="rotate(76 508.5 460.5)">пр-кт Чехова</text>
<text class="s" x="86.0" y="540.0" font-size="11" text-anchor="middle" fill="#111" transform="rotate(76 86.0 536.0)">пр-кт Соколова</text>
<text class="s" x="168.7" y="501.5" font-size="15.5" text-anchor="middle" fill="#111" transform="rotate(-15 168.7 495.5)"><tspan font-size="22">3</tspan>КЖ</text>
<text class="s" x="61" y="270" font-size="15" fill="#111" transform="rotate(-15 71 265)">КН</text>
<text class="s" x="523" y="277" font-size="17" fill="#111" transform="rotate(-15 532 268)">2КЖ</text>
<text class="s" x="521" y="353" font-size="14" fill="#111" transform="rotate(-15 531 347)">КЖ</text>
<text class="s" x="518" y="420" font-size="14" fill="#111" transform="rotate(75 535.6 418.2)">4КЖ</text>
<path d="M103.6 166.5V111" stroke="#000" stroke-width="2.4" fill="none"/><path d="M103.6 105.5l3.2 8h-6.4z" fill="#000"/>
<text x="113.8" y="144.4" font-size="24.5" font-family="'Liberation Serif',serif" fill="#000">С</text></g>
<rect x="563.9" y="132.3" width="41" height="25.7" fill="#5a5a5a"/>
<text class="s" x="584.5" y="147.3" font-size="7.4" text-anchor="middle" fill="#111">кж/кн</text>
<rect x="564.4" y="204.4" width="40.5" height="26.2" fill="#fff" stroke="#444" stroke-width="0.9"/>
<text class="s" x="584.8" y="219.6" font-size="7.4" text-anchor="middle" fill="#222">кж/кн</text>
<rect x="564" y="255.3" width="41.3" height="26.2" fill="#fff" stroke="#aaa" stroke-width="0.8"/>
<line x1="564" y1="255.3" x2="564" y2="281.5" stroke="#fff" stroke-width="1" stroke-dasharray="1.2 1.2"/>
<rect x="568.5" y="259.3" width="33.5" height="17.6" fill="#fff" stroke="#777" stroke-width="0.9"/>
<rect x="565.1" y="330.2" width="44.2" height="23.5" fill="#ababab"/>
<rect x="571.5" y="334.2" width="31.2" height="15.1" fill="#fff"/>
<text class="b" x="587.2" y="347.3" font-size="13.7" text-anchor="middle">ОЗ</text>
<rect x="564.3" y="375.2" width="45.4" height="23.8" fill="#5a5a5a"/>
<rect x="568.3" y="379.6" width="37" height="14.9" fill="#fff"/>
<text class="b" x="586.9" y="392.2" font-size="13.4" text-anchor="middle">ЗРЗ-1</text>
<rect x="565.1" y="430.9" width="44.2" height="23.3" fill="#ababab"/>
<rect x="568.5" y="434.5" width="37.4" height="15.8" fill="#fff"/>
<text class="b" x="587.2" y="447.6" font-size="13.4" text-anchor="middle">ЗРЗ-2</text>
<text class="s" x="563.5" y="500.6" font-size="14.3" fill="#000">34</text>
<path d="M587.6 500V485.2" stroke="#333" stroke-width="0.9"/>
<path d="M587.4 500.1L570.9 508.8" stroke="#888" stroke-width="0.9"/>
<path d="M587.4 500.1L604.7 508.8" stroke="#333" stroke-width="1.1"/>
<circle cx="587.4" cy="500.1" r="3" fill="#000"/>
</svg>
<div class="pn">4</div>
<div class="t" style="left:630.2px;top:91.80px;">Условные обозначения:</div><div class="t" style="left:673.7px;top:112.20px;">Застройка</div><div class="t" style="left:617.6px;top:132.50px;word-spacing:10.31px;">– объект культурного наследия</div><div class="t" style="left:617.6px;top:150.00px;word-spacing:-1.56px;">регионального значения «Доходный</div><div class="t" style="left:617.6px;top:167.10px;word-spacing:5.41px;">дом <span style="word-spacing:0">И.Д.&nbsp;Кукса»</span> (далее – объект</div><div class="t" style="left:617.6px;top:184.40px;">культурного наследия);</div><div class="t" style="left:617.6px;top:204.70px;">– окружающая застройка.</div><div class="t" style="left:634.5px;top:235.20px;">Территории и границы</div><div class="t" style="left:617.6px;top:255.10px;word-spacing:3.09px;">– территория объекта культурного</div><div class="t" style="left:617.6px;top:272.90px;">наследия.</div><div class="t" style="left:663.8px;top:292.90px;">Зоны охраны</div><div class="t" style="left:607.7px;top:310.20px;">объекта культурного наследия</div><div class="t" style="left:617.6px;top:331.10px;word-spacing:-1.07px;letter-spacing:-0.12px;">– охранная зона объекта культурного</div><div class="t" style="left:617.6px;top:348.10px;">наследия;</div><div class="t" style="left:617.6px;top:376.00px;word-spacing:7.62px;">– зона регулирования застройки</div><div class="t" style="left:617.6px;top:392.90px;word-spacing:33.04px;"><span style="word-spacing:0">и&nbsp;хозяйственной</span> деятельности</div><div class="t" style="left:617.6px;top:410.40px;">1-го типа;</div><div class="t" style="left:617.6px;top:430.70px;word-spacing:7.62px;">– зона регулирования застройки</div><div class="t" style="left:617.6px;top:448.20px;word-spacing:16.52px;">и хозяйственной деятельности</div><div class="t" style="left:617.6px;top:465.50px;">2-го типа;</div><div class="t" style="left:617.6px;top:485.40px;word-spacing:6.91px;">– характерная точка границ зон</div><div class="t" style="left:617.6px;top:502.30px;word-spacing:12.91px;">охраны и территории объекта</div><div class="t" style="left:617.6px;top:519.30px;">культурного наследия.</div>
<div class="ft">Y:\ORST\Ppo\0207p058.f22.docx</div>
</div>
</body></html>
